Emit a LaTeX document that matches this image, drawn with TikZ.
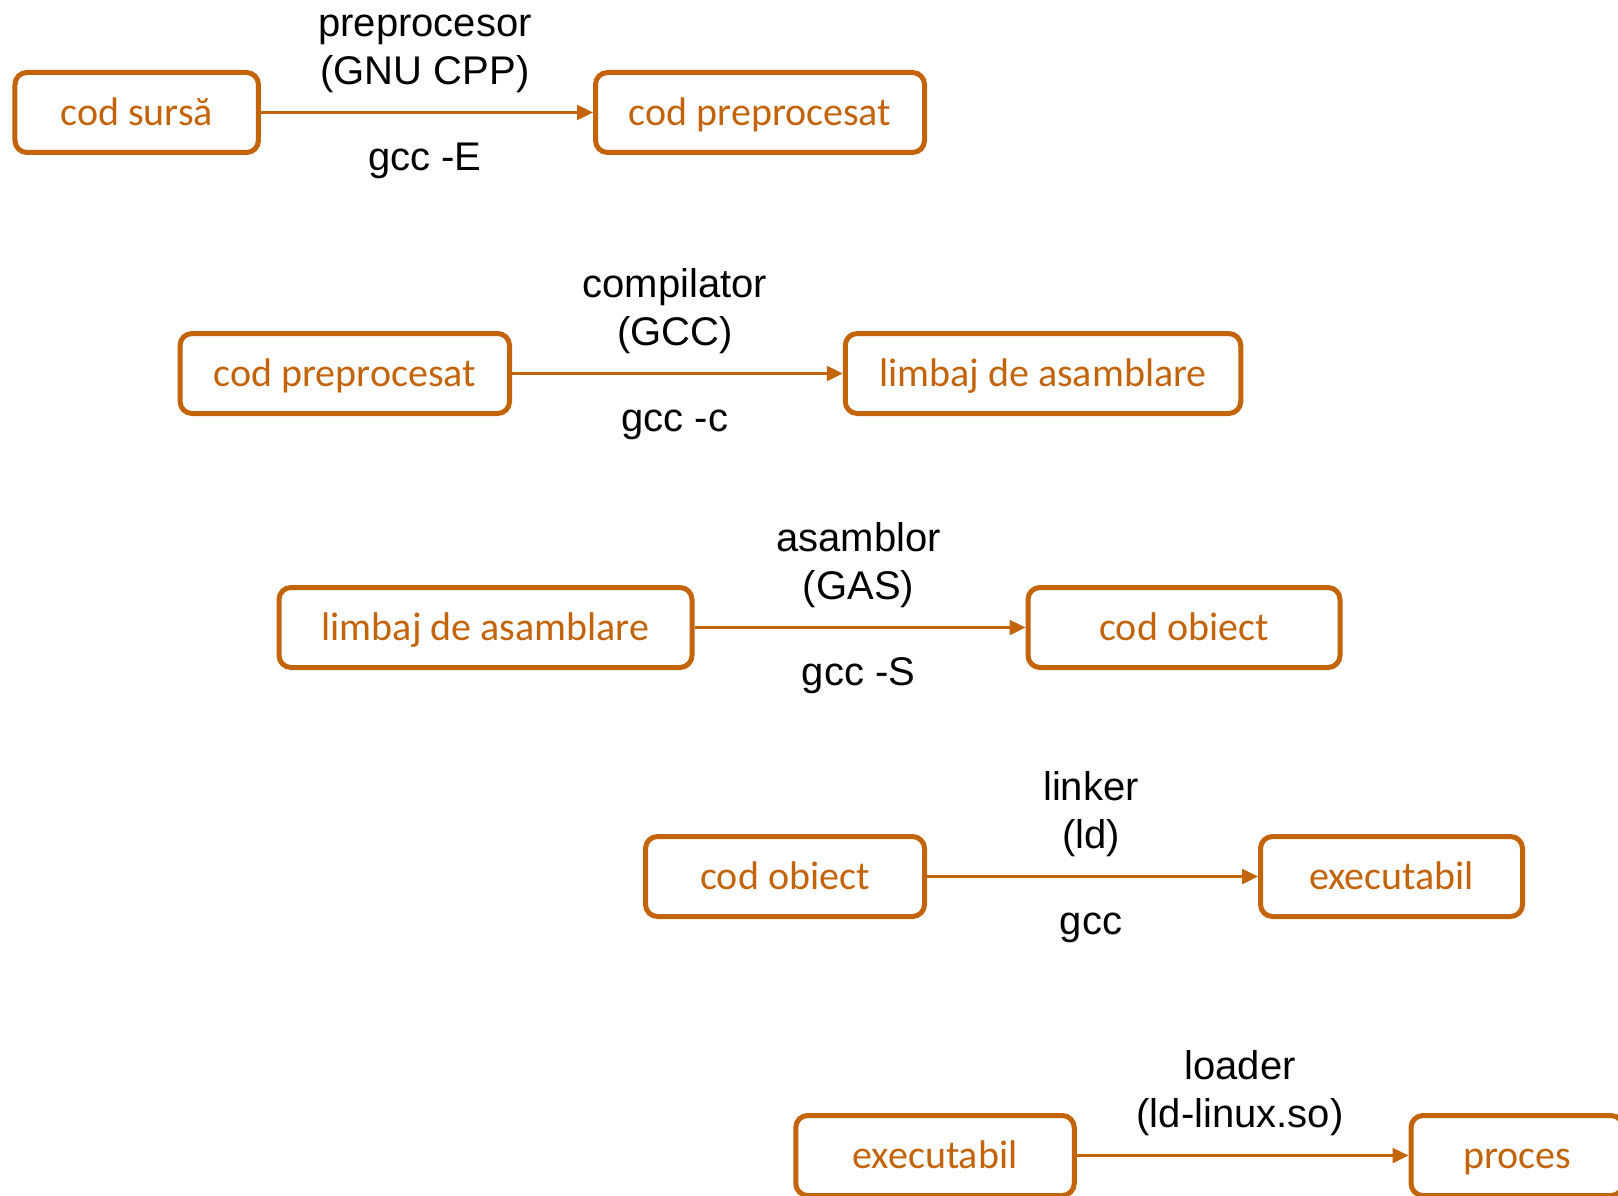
\documentclass[tikz,border=0pt]{standalone}
\usepackage{fontspec}
\setmainfont{Liberation Sans}
\newfontfamily\boxfont{Carlito}
\usetikzlibrary{arrows.meta}
\definecolor{boxorange}{RGB}{196,100,10}
\tikzset{
  stagebox/.style={draw=boxorange, line width=5pt, rounded corners=12pt, fill=white,
    minimum height=80pt, inner sep=0pt, text=boxorange, text height=30pt, text depth=4pt,
    font=\boxfont\fontsize{40pt}{48pt}\selectfont},
  flow/.style={draw=boxorange, line width=2.5pt, -{Triangle[length=16pt,width=15pt]}},
  tool/.style={inner sep=0pt, anchor=base, align=center, text=black,
    font=\fontsize{40pt}{48pt}\selectfont},
}
\begin{document}
\begin{tikzpicture}[x=1pt,y=-1pt]
\useasboundingbox (0,0) rectangle (1618,1196);
% row 1
\node[stagebox, minimum width=243.5pt] (sursa) at (136.7,112.5) {cod sursă};
\node[stagebox, minimum width=329pt] (prepA) at (760,112.5) {cod preprocesat};
\draw[flow] (sursa) -- (prepA);
\node[tool] (t1) at (425,84.5) {preprocesor\\(GNU CPP)};
\node[tool] (c1) at (425,170.5) {gcc -E};
% row 2
\node[stagebox, minimum width=329.5pt] (prepB) at (344.8,373.5) {cod preprocesat};
\node[stagebox, minimum width=395.5pt] (asmA) at (1043,373.5) {limbaj de asamblare};
\draw[flow] (prepB) -- (asmA);
\node[tool] (t2) at (675,345.5) {compilator\\(GCC)};
\node[tool] (c2) at (675,431.5) {gcc -c};
% row 3
\node[stagebox, minimum width=413pt] (asmB) at (485.5,627.5) {limbaj de asamblare};
\node[stagebox, minimum width=312pt] (objA) at (1184,627.5) {cod obiect};
\draw[flow] (asmB) -- (objA);
\node[tool] (t3) at (858.5,599.5) {asamblor\\(GAS)};
\node[tool] (c3) at (858.5,685.5) {gcc -S};
% row 4
\node[stagebox, minimum width=279pt] (objB) at (785,876.5) {cod obiect};
\node[stagebox, minimum width=262pt] (exeA) at (1391.5,876.5) {executabil};
\draw[flow] (objB) -- (exeA);
\node[tool] (t4) at (1091,848.5) {linker\\(ld)};
\node[tool] (c4) at (1091,934.5) {gcc};
% row 5
\node[stagebox, minimum width=278.5pt] (exeB) at (935,1155.5) {executabil};
\node[stagebox, minimum width=212pt] (proc) at (1517,1155.5) {proces};
\draw[flow] (exeB) -- (proc);
\node[tool] (t5) at (1240,1127.5) {loader\\(ld-linux.so)};
\end{tikzpicture}
\end{document}
